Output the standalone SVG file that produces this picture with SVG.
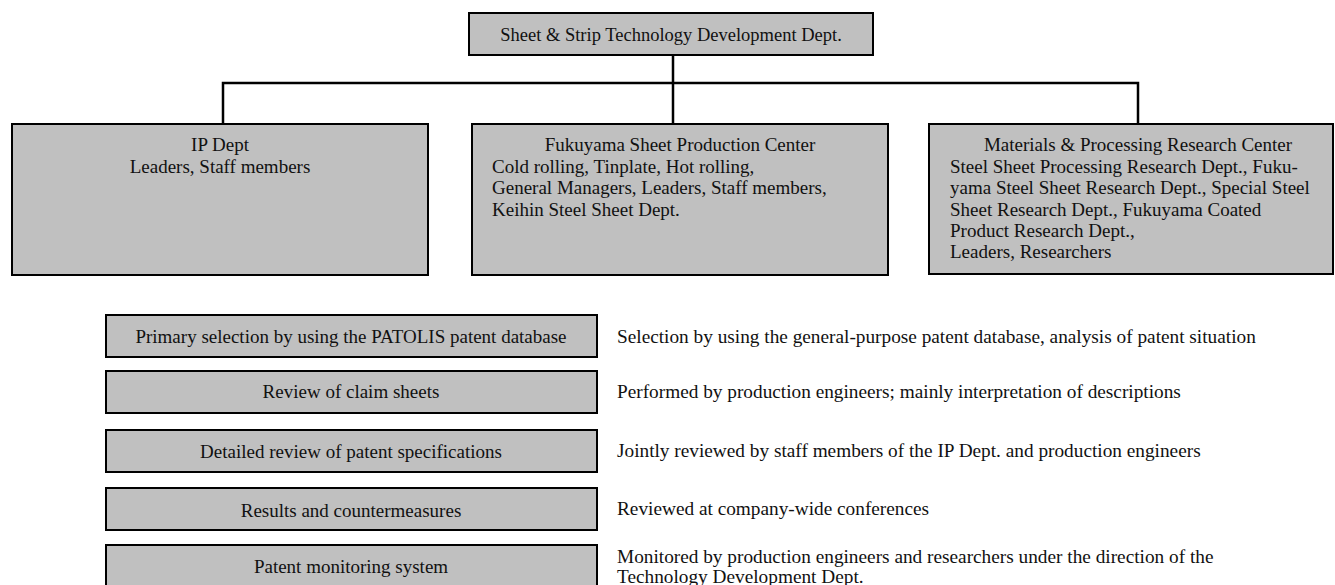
<svg xmlns="http://www.w3.org/2000/svg" width="1335" height="585" viewBox="0 0 1335 585">
<style>
.box{fill:#c0c0c0;stroke:#000;stroke-width:2}
.t{font-family:"Liberation Serif","Times New Roman",serif;font-size:19px;fill:#111}
.d{font-size:19.3px}
.c{text-anchor:middle}
.conn{fill:none;stroke:#000;stroke-width:2.5}
</style>
<rect width="1335" height="585" fill="#fff"/>
<g id="connectors">
<path class="conn" d="M673 55V123M223 123V83H1138V123"/>
</g>
<g id="top">
<rect class="box" x="469" y="13" width="404" height="42"/>
<text class="t c" x="671" y="41" style="font-size:18.5px">Sheet &amp; Strip Technology Development Dept.</text>
</g>
<g id="ip">
<rect class="box" x="12" y="124" width="416" height="151"/>
<text class="t c" x="220" y="151">IP Dept</text>
<text class="t c" x="220" y="173">Leaders, Staff members</text>
</g>
<g id="fukuyama">
<rect class="box" x="472" y="124" width="416" height="151"/>
<text class="t c" x="680" y="151">Fukuyama Sheet Production Center</text>
<text class="t" x="492" y="173">Cold rolling, Tinplate, Hot rolling,</text>
<text class="t" x="492" y="194">General Managers, Leaders, Staff members,</text>
<text class="t" x="492" y="216">Keihin Steel Sheet Dept.</text>
</g>
<g id="materials">
<rect class="box" x="929" y="124" width="404" height="150"/>
<text class="t c" x="1138" y="151">Materials &amp; Processing Research Center</text>
<text class="t" x="950" y="173">Steel Sheet Processing Research Dept., Fuku-</text>
<text class="t" x="950" y="194">yama Steel Sheet Research Dept., Special Steel</text>
<text class="t" x="950" y="216">Sheet Research Dept., Fukuyama Coated</text>
<text class="t" x="950" y="237">Product Research Dept.,</text>
<text class="t" x="950" y="258">Leaders, Researchers</text>
</g>
<g id="step1">
<rect class="box" x="106" y="315" width="491" height="42"/>
<text class="t c" x="351" y="343">Primary selection by using the PATOLIS patent database</text>
<text class="t d" x="617" y="343">Selection by using the general-purpose patent database, analysis of patent situation</text>
</g>
<g id="step2">
<rect class="box" x="106" y="371" width="491" height="42"/>
<text class="t c" x="351" y="398">Review of claim sheets</text>
<text class="t d" x="617" y="398">Performed by production engineers; mainly interpretation of descriptions</text>
</g>
<g id="step3">
<rect class="box" x="106" y="430" width="491" height="42"/>
<text class="t c" x="351" y="458">Detailed review of patent specifications</text>
<text class="t d" x="617" y="457">Jointly reviewed by staff members of the IP Dept. and production engineers</text>
</g>
<g id="step4">
<rect class="box" x="106" y="488" width="491" height="42"/>
<text class="t c" x="351" y="517">Results and countermeasures</text>
<text class="t d" x="617" y="515">Reviewed at company-wide conferences</text>
</g>
<g id="step5">
<rect class="box" x="106" y="545" width="491" height="50"/>
<text class="t c" x="351" y="573">Patent monitoring system</text>
<text class="t d" x="617" y="563">Monitored by production engineers and researchers under the direction of the</text>
<text class="t d" x="617" y="583">Technology Development Dept.</text>
</g>
</svg>
